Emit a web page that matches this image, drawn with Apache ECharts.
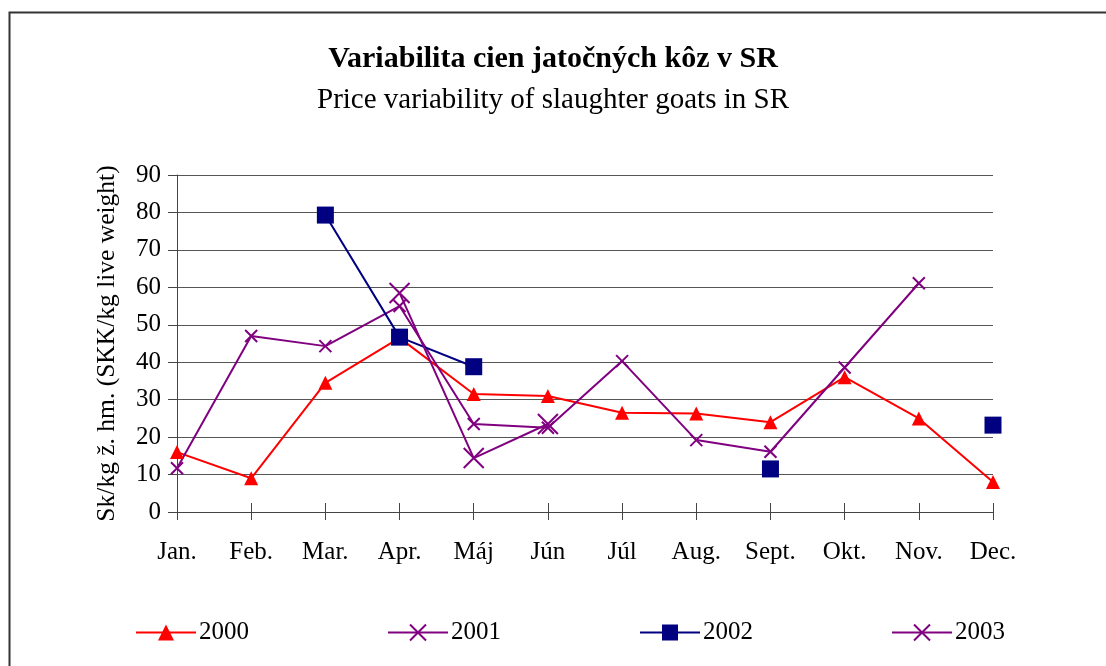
<!DOCTYPE html>
<html>
<head>
<meta charset="utf-8">
<script src="https://cdn.jsdelivr.net/npm/echarts@6/dist/echarts.min.js"></script>
<style>html,body{margin:0;padding:0;background:#fff}#c{width:1106px;height:666px}</style>
</head>
<body>
<div id="c"></div>
<script>
const months = ['Jan.', 'Feb.', 'Mar.', 'Apr.', 'Máj', 'Jún', 'Júl', 'Aug.', 'Sept.', 'Okt.', 'Nov.', 'Dec.'];
const seriesNames = ['2000', '2001', '2002', '2003'];
const y2000 = [16, 9, 34.5, 46.5, 31.5, 31, 26.5, 26.3, 24, 36, 25, 8];
const y2001 = [11.7, 47, 44.3, 55, 23.5, 22.5, 40.3, 19.2, 16.1, 38.6, 61.1, null];
const y2002 = [null, null, 79.3, 46.7, 38.8, null, null, null, 11.5, null, null, 23.2];
const y2003 = [null, null, null, 58.5, 14.4, 23.5, null, null, null, null, null, null];

const FONT = '"Liberation Serif", "Times New Roman", serif';
const xPath = 'path://M0,0L10,10M10,0L0,10';

const chart = echarts.init(document.getElementById('c'), null, {renderer: 'canvas'});
chart.setOption({
  backgroundColor: '#fff',
  animation: false,
  graphic: [{
    type: 'rect', left: 7, top: 10, shape: {width: 1110, height: 670},
    style: {fill: 'none', stroke: '#333', lineWidth: 2}, silent: true, z: -1
  }],
  title: [{
    text: 'Variabilita cien jatočných kôz v SR',
    left: 'center', top: 39,
    textStyle: {fontFamily: FONT, fontSize: 30, fontWeight: 'bold', color: '#000'}
  }, {
    text: 'Price variability of slaughter goats in SR',
    left: 'center', top: 81,
    textStyle: {fontFamily: FONT, fontSize: 29, fontWeight: 'normal', color: '#000'}
  }],
  legend: {
    data: seriesNames,
    left: 130, top: 615,
    itemWidth: 60, itemHeight: 20, itemGap: 138,
    textStyle: {fontFamily: FONT, fontSize: 25, color: '#000', padding: [0, 0, 0, -2]}
  },
  grid: {left: 177, right: 113, top: 175, bottom: 154, containLabel: false},
  xAxis: [{
    type: 'category', data: months, boundaryGap: false,
    axisLine: {lineStyle: {color: '#444', width: 1}},
    axisTick: {show: true, length: 8, alignWithLabel: true, lineStyle: {color: '#444'}},
    axisLabel: {fontFamily: FONT, fontSize: 25, color: '#000', margin: 28},
    splitLine: {show: false}
  }, {
    type: 'category', data: months, boundaryGap: false, position: 'bottom',
    axisLine: {show: false},
    axisTick: {show: true, inside: true, length: 9, lineStyle: {color: '#444'}},
    axisLabel: {show: false}, splitLine: {show: false}
  }],
  yAxis: {
    type: 'value', min: 0, max: 90, interval: 10,
    name: 'Sk/kg ž. hm. (SKK/kg live weight)',
    nameLocation: 'middle', nameGap: 57, nameRotate: 90,
    nameTextStyle: {fontFamily: FONT, fontSize: 25.5, color: '#000'},
    axisLine: {show: true, lineStyle: {color: '#444', width: 1}},
    axisTick: {show: true, length: 9, lineStyle: {color: '#444'}},
    axisLabel: {fontFamily: FONT, fontSize: 25, color: '#000', margin: 16},
    splitLine: {show: true, lineStyle: {color: '#555', width: 1}}
  },
  series: [{
    name: '2000', type: 'line', data: y2000,
    symbol: 'triangle', symbolSize: 14, showAllSymbol: true,
    lineStyle: {color: '#ff0000', width: 2},
    itemStyle: {color: '#ff0000'}
  }, {
    name: '2001', type: 'line', data: y2001,
    symbol: xPath, symbolSize: 12, showAllSymbol: true,
    lineStyle: {color: '#800080', width: 2},
    itemStyle: {color: '#800080', borderColor: '#800080', borderWidth: 2}
  }, {
    name: '2002', type: 'line', data: y2002,
    symbol: 'rect', symbolSize: 17, showAllSymbol: true,
    lineStyle: {color: '#000080', width: 2},
    itemStyle: {color: '#000080'}
  }, {
    name: '2003', type: 'line', data: y2003,
    symbol: xPath, symbolSize: 20, showAllSymbol: true,
    lineStyle: {color: '#800080', width: 2},
    itemStyle: {color: '#800080', borderColor: '#800080', borderWidth: 2}
  }]
});
</script>
</body>
</html>
